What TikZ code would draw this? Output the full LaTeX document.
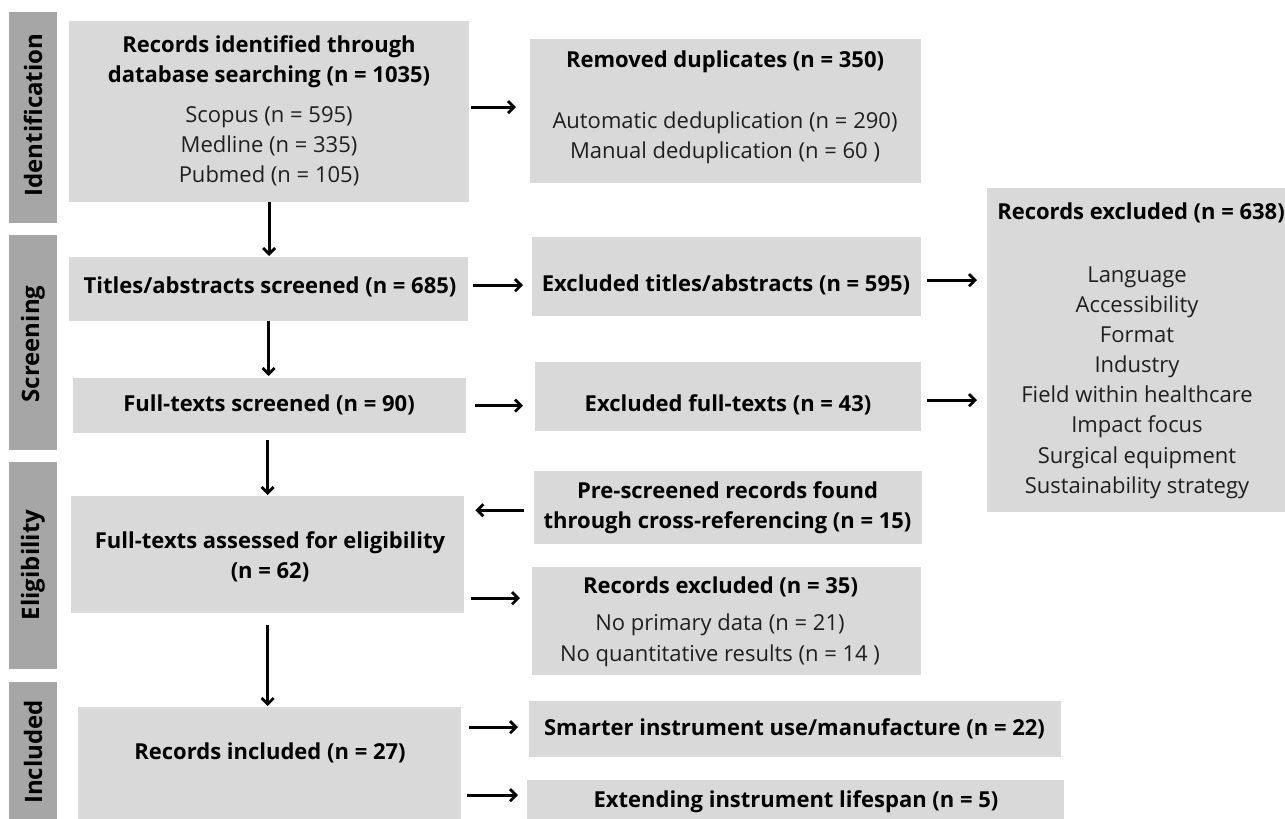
\documentclass[tikz,border=0pt]{standalone}
\usepackage{fontspec}
\setmainfont{Open Sans}
\usetikzlibrary{arrows.meta}
\definecolor{boxgray}{HTML}{D9D9D9}
\definecolor{bargray}{HTML}{A6A6A6}
\tikzset{
  box/.style={fill=boxgray, draw=none, anchor=north west, inner sep=0pt},
  bar/.style={fill=bargray, draw=none, anchor=north west, inner sep=0pt, minimum width=48pt},
  head/.style={font=\fontsize{22}{30}\selectfont\bfseries, align=center, inner sep=0pt},
  body/.style={font=\fontsize{22}{29.8}\selectfont, align=center, inner sep=0pt, text=black!88},
  phase/.style={font=\fontsize{24}{26}\selectfont\bfseries, rotate=90, inner sep=0pt},
  arr/.style={line width=2.8pt, -{Straight Barb[length=6pt,width=12pt]}},
}
\begin{document}
\begin{tikzpicture}[x=1pt,y=-1pt]
\useasboundingbox (0,0) rectangle (1285,819);

% phase bars
\node[bar, minimum height=211pt] (pid) at (9,12) {};
\node[bar, minimum height=215pt] (pscr) at (9,235) {};
\node[bar, minimum height=207pt] (peli) at (9,462) {};
\node[bar, minimum height=140pt] (pinc) at (9,682) {};
\node[phase] (pidt) at (33,115) {Identification};
\node[phase] (pscrt) at (33,344) {Screening};
\node[phase] (pelit) at (33,565) {Eligibility};
\node[phase] (pinct) at (33,752) {Included};

% boxes
\node[box, minimum width=400pt, minimum height=181pt] (b1) at (69,21) {};
\node[box, minimum width=391pt, minimum height=144pt] (dup) at (530,39) {};
\node[box, minimum width=399pt, minimum height=64pt] (ta) at (69,257) {};
\node[box, minimum width=389pt, minimum height=79pt] (exta) at (532,237) {};
\node[box, minimum width=393pt, minimum height=55pt] (fts) at (73,378) {};
\node[box, minimum width=386pt, minimum height=69pt] (exft) at (535,362) {};
\node[box, minimum width=303pt, minimum height=324pt] (ex638) at (987,188) {};
\node[box, minimum width=393pt, minimum height=117pt] (assess) at (71,496) {};
\node[box, minimum width=388pt, minimum height=73pt] (pre) at (534,471) {};
\node[box, minimum width=389pt, minimum height=108pt] (ex35) at (532,567) {};
\node[box, minimum width=383pt, minimum height=120pt] (incl) at (78,707) {};
\node[box, minimum width=532pt, minimum height=56pt] (smart) at (529,701) {};
\node[box, minimum width=537pt, minimum height=50pt] (ext) at (527,780) {};

% texts
\node[head] (b1h) at (269,62) {Records identified through\\database searching (n = 1035)};
\node[body] (b1l) at (269,146.5) {Scopus (n = 595)\\Medline (n = 335)\\Pubmed (n = 105)};
\node[head] (duph) at (725,62) {Removed duplicates (n = 350)};
\node[body] (dupl) at (725,138) {Automatic deduplication (n = 290)\\Manual deduplication (n = 60 )};
\node[head] (tat) at (270,287) {Titles/abstracts screened (n = 685)};
\node[head] (extat) at (726,285) {Excluded titles/abstracts (n = 595)};
\node[head] (ftst) at (269,405) {Full-texts screened (n = 90)};
\node[head] (exftt) at (728,405) {Excluded full-texts (n = 43)};
\node[head] (ex638h) at (1141,213) {Records excluded (n = 638)};
\node[body, font=\fontsize{22}{30.15}\selectfont] (ex638l) at (1137,382.5) {Language\\Accessibility\\Format\\Industry\\Field within healthcare\\Impact focus\\Surgical equipment\\Sustainability strategy};
\node[head] (assesst) at (270,557) {Full-texts assessed for eligibility\\(n = 62)};
\node[head] (pret) at (727.5,508) {Pre-screened records found\\through cross-referencing (n = 15)};
\node[head] (ex35h) at (720.5,587) {Records excluded (n = 35)};
\node[body, font=\fontsize{22}{31}\selectfont] (ex35l) at (720,640.5) {No primary data (n = 21)\\No quantitative results (n = 14 )};
\node[head] (inclt) at (270,753) {Records included (n = 27)};
\node[head] (smartt) at (794.5,729) {Smarter instrument use/manufacture (n = 22)};
\node[head] (extt) at (796,802) {Extending instrument lifespan (n = 5)};

% vertical flow
\draw[arr, shorten >=1pt] (b1.south) -- (b1.south |- ta.north);
\draw[arr, shorten >=2pt] (ta.south) -- (ta.south |- fts.north);
\draw[arr, shorten <=7pt, shorten >=1pt] (assess.north |- fts.south) -- (assess.north);
\draw[arr, shorten <=12pt, shorten >=1pt] (assess.south) -- (assess.south |- incl.north);

% side branches
\draw[arr, shorten <=2pt, shorten >=14pt] ([yshift=4.5pt]b1.east) -- ([yshift=4.5pt]b1.east -| dup.west);
\draw[arr, shorten <=5pt, shorten >=9pt] ([yshift=4pt]ta.east) -- ([yshift=4pt]ta.east -| exta.west);
\draw[arr, shorten <=9pt, shorten >=12pt] (fts.east) -- (fts.east -| exft.west);
\draw[arr, shorten <=6pt, shorten >=10pt] ([yshift=-3.5pt]exta.east) -- ([yshift=-3.5pt]exta.east -| ex638.west);
\draw[arr, shorten <=6pt, shorten >=10pt] ([yshift=-3.5pt]exft.east) -- ([yshift=-3.5pt]exft.east -| ex638.west);
\draw[arr, shorten <=10pt, shorten >=11pt] ([yshift=-2.5pt]pre.west) -- ([yshift=-2.5pt]pre.west -| assess.east);
\draw[arr, shorten <=7pt, shorten >=12pt] ([yshift=-43.5pt]assess.east) -- ([yshift=-43.5pt]assess.east -| ex35.west);
\draw[arr, shorten <=8pt, shorten >=11pt] ([yshift=2pt]smart.west -| incl.east) -- ([yshift=2pt]smart.west);
\draw[arr, shorten <=6pt, shorten >=9pt] ([yshift=10pt]ext.west -| incl.east) -- ([yshift=10pt]ext.west);
\end{tikzpicture}
\end{document}
